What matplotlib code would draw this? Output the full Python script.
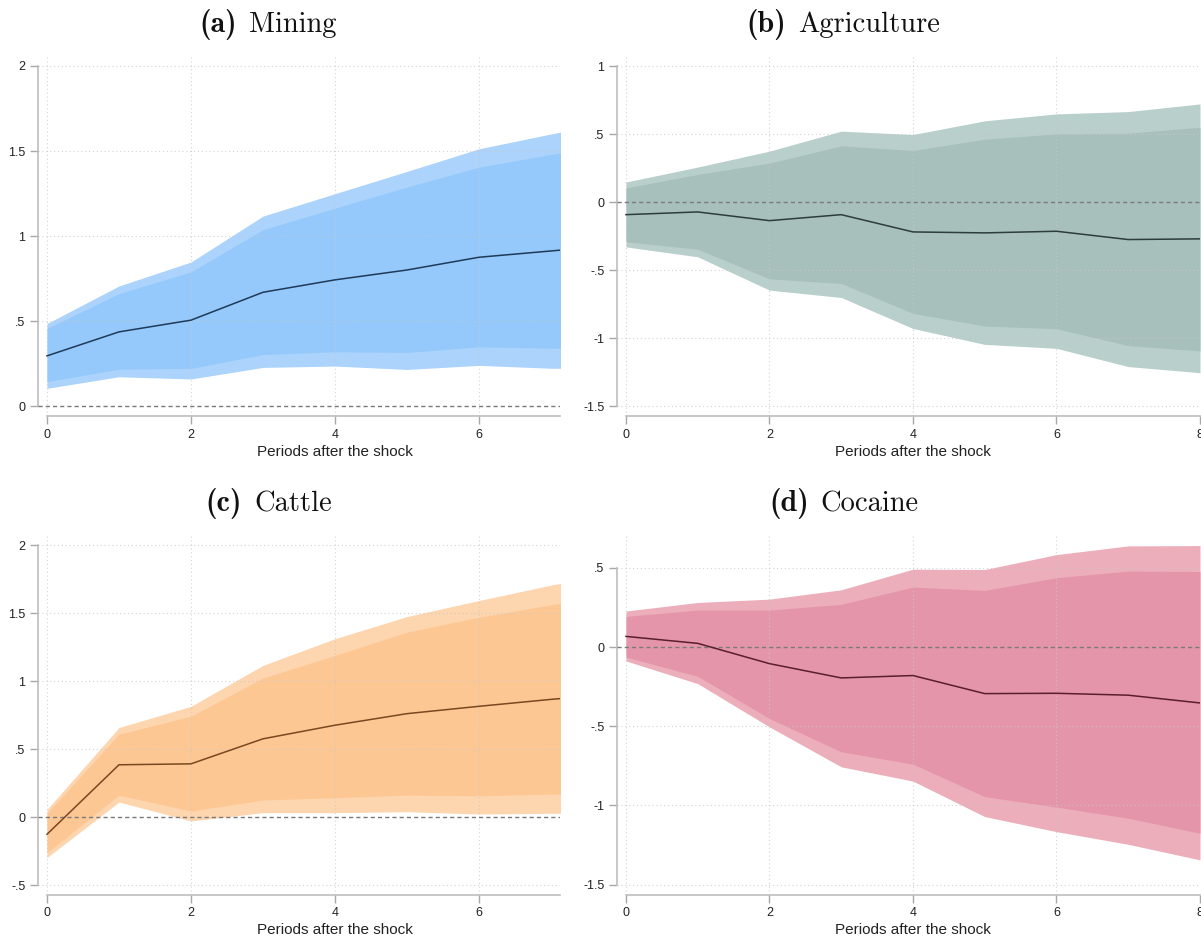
import matplotlib
matplotlib.use('Agg')
import matplotlib.pyplot as plt
from matplotlib.transforms import blended_transform_factory

plt.rcParams['mathtext.fontset'] = 'cm'
plt.rcParams['font.family'] = ['Liberation Sans', 'DejaVu Sans']
plt.rcParams['axes.unicode_minus'] = False

periods = [0, 1, 2, 3, 4, 5, 6, 7, 8]

# (a) Mining
mining_irf = [0.295, 0.436, 0.505, 0.669, 0.742, 0.800, 0.875, 0.912, 0.950]
mining_in_lo = [0.143, 0.217, 0.221, 0.303, 0.319, 0.315, 0.348, 0.340, 0.335]
mining_in_hi = [0.456, 0.661, 0.789, 1.037, 1.164, 1.288, 1.405, 1.480, 1.550]
mining_out_lo = [0.104, 0.172, 0.159, 0.227, 0.235, 0.215, 0.239, 0.222, 0.220]
mining_out_hi = [0.485, 0.706, 0.847, 1.117, 1.249, 1.380, 1.513, 1.600, 1.680]

# (b) Agriculture
agri_irf = [-0.093, -0.073, -0.137, -0.093, -0.220, -0.227, -0.215, -0.276, -0.271]
agri_in_lo = [-0.293, -0.347, -0.565, -0.599, -0.819, -0.912, -0.932, -1.056, -1.095]
agri_in_hi = [0.103, 0.203, 0.286, 0.413, 0.379, 0.462, 0.501, 0.506, 0.550]
agri_out_lo = [-0.330, -0.403, -0.648, -0.702, -0.930, -1.047, -1.076, -1.210, -1.255]
agri_out_hi = [0.147, 0.257, 0.374, 0.521, 0.496, 0.597, 0.648, 0.665, 0.721]

# (c) Cattle
cattle_irf = [-0.127, 0.384, 0.391, 0.575, 0.675, 0.760, 0.814, 0.865, 0.910]
cattle_in_lo = [-0.262, 0.161, 0.044, 0.125, 0.142, 0.161, 0.156, 0.168, 0.175]
cattle_in_hi = [0.027, 0.609, 0.741, 1.022, 1.188, 1.359, 1.469, 1.560, 1.640]
cattle_out_lo = [-0.298, 0.110, -0.029, 0.032, 0.032, 0.039, 0.022, 0.027, 0.030]
cattle_out_hi = [0.055, 0.658, 0.814, 1.115, 1.311, 1.474, 1.592, 1.705, 1.800]

# (d) Cocaine
coca_irf = [0.067, 0.023, -0.105, -0.195, -0.180, -0.294, -0.292, -0.304, -0.353]
coca_in_lo = [-0.063, -0.185, -0.451, -0.661, -0.739, -0.944, -1.010, -1.080, -1.175]
coca_in_hi = [0.193, 0.233, 0.233, 0.269, 0.378, 0.357, 0.437, 0.479, 0.476]
coca_out_lo = [-0.088, -0.231, -0.504, -0.756, -0.846, -1.070, -1.165, -1.245, -1.343]
coca_out_hi = [0.227, 0.281, 0.302, 0.361, 0.491, 0.489, 0.583, 0.638, 0.640]

title_tags = ['(a)', '(b)', '(c)', '(d)']
title_names = ['Mining', 'Agriculture', 'Cattle', 'Cocaine']
xlabel = 'Periods after the shock'

yticks_a = [0, 0.5, 1, 1.5, 2]
ylabels_a = ['0', '.5', '1', '1.5', '2']
yticks_b = [-1.5, -1, -0.5, 0, 0.5, 1]
ylabels_b = ['-1.5', '-1', '-.5', '0', '.5', '1']
yticks_c = [-0.5, 0, 0.5, 1, 1.5, 2]
ylabels_c = ['-.5', '0', '.5', '1', '1.5', '2']
yticks_d = [-1.5, -1, -0.5, 0, 0.5]
ylabels_d = ['-1.5', '-1', '-.5', '0', '.5']
xticks_left = [0, 2, 4, 6]
xticks_right = [0, 2, 4, 6, 8]

W, H = 1201, 940
fig = plt.figure(figsize=(W / 100, H / 100), dpi=100)
fig.patch.set_facecolor('white')


def add_ax(l, r, t, b):
    return fig.add_axes([l / W, 1 - b / H, (r - l) / W, (b - t) / H])


panels = [
    dict(box=(38, 560, 55, 416), xlim=(-0.125, 7.125), ylim=(-0.0588, 2.0647),
         xt=xticks_left, yt=yticks_a, yl=ylabels_a,
         irf=mining_irf, ilo=mining_in_lo, ihi=mining_in_hi, olo=mining_out_lo, ohi=mining_out_hi,
         c_out='#abd3fc', c_in='#95c9fb', c_line='#1e3a58',
         tag=title_tags[0], name=title_names[0], tx=268, ty=32, lab_off=-36),
    dict(box=(617, 1200, 55, 416), xlim=(-0.125, 8.0), ylim=(-1.5735, 1.081),
         xt=xticks_right, yt=yticks_b, yl=ylabels_b,
         irf=agri_irf, ilo=agri_in_lo, ihi=agri_in_hi, olo=agri_out_lo, ohi=agri_out_hi,
         c_out='#b9cfcc', c_in='#a8c0bc', c_line='#2c3d3b',
         tag=title_tags[1], name=title_names[1], tx=843, ty=32, lab_off=-36),
    dict(box=(38, 560, 534, 895), xlim=(-0.125, 7.125), ylim=(-0.5735, 2.081),
         xt=xticks_left, yt=yticks_c, yl=ylabels_c,
         irf=cattle_irf, ilo=cattle_in_lo, ihi=cattle_in_hi, olo=cattle_out_lo, ohi=cattle_out_hi,
         c_out='#fdd5ae', c_in='#fdc794', c_line='#7a4820',
         tag=title_tags[2], name=title_names[2], tx=269, ty=511, lab_off=-35),
    dict(box=(617, 1200, 534, 895), xlim=(-0.125, 8.0), ylim=(-1.5647, 0.713),
         xt=xticks_right, yt=yticks_d, yl=ylabels_d,
         irf=coca_irf, ilo=coca_in_lo, ihi=coca_in_hi, olo=coca_out_lo, ohi=coca_out_hi,
         c_out='#ecaebb', c_in='#e495a9', c_line='#5a1e2e',
         tag=title_tags[3], name=title_names[3], tx=844, ty=511, lab_off=-35),
]

fig.canvas.draw()
renderer = fig.canvas.get_renderer()

axis_col = '#bdbdbd'
for p in panels:
    ax = add_ax(*p['box'])
    ax.set_facecolor('white')
    ax.set_xlim(*p['xlim'])
    ax.set_ylim(*p['ylim'])

    ax.fill_between(periods, p['olo'], p['ohi'], color=p['c_out'], lw=0, zorder=1)
    ax.fill_between(periods, p['ilo'], p['ihi'], color=p['c_in'], lw=0, zorder=1.5)

    for yv in p['yt']:
        if yv != 0:
            ax.axhline(yv, color='#c8c8c8', lw=0.8, ls=(0, (1, 2.5)), zorder=2, alpha=0.8)
    for xv in p['xt']:
        ax.axvline(xv, color='#c8c8c8', lw=0.8, ls=(0, (1, 2.5)), zorder=2, alpha=0.8)

    ax.axhline(0, color='#7a7a7a', lw=1.0, ls=(0, (3, 2.2)), zorder=3)
    ax.plot(periods, p['irf'], color=p['c_line'], lw=1.1, zorder=4, clip_on=True)

    ax.set_xticks(p['xt'])
    ax.set_xticklabels([str(v) for v in p['xt']])
    ax.set_yticks(p['yt'])
    ax.set_yticklabels(p['yl'])
    for s in ['top', 'right']:
        ax.spines[s].set_visible(False)
    ax.spines['left'].set_bounds(min(p['yt']), max(p['yt']))
    ax.spines['bottom'].set_bounds(0, p['xlim'][1])
    for s in ['left', 'bottom']:
        ax.spines[s].set_color(axis_col)
        ax.spines[s].set_linewidth(1.2)
    ax.tick_params(axis='both', direction='out', length=6, width=1.0, color='#a8a8a8',
                   labelsize=9, labelcolor='#222222', pad=3)

    ax.annotate(xlabel, xy=(4, 0), xycoords=blended_transform_factory(ax.transData, ax.transAxes),
                xytext=(0, p['lab_off']), textcoords='offset pixels', ha='center', va='center',
                fontsize=11, color='#222222', annotation_clip=False)

    # title: bold tag + roman name, centred as a group
    yb = 1 - p['ty'] / H
    t1 = fig.text(0, yb, p['tag'], ha='left', va='baseline', fontsize=21.5,
                  family='cmb10', color='#111111')
    t2 = fig.text(0, yb, p['name'], ha='left', va='baseline', fontsize=20.5,
                  family='cmr10', color='#111111')
    w1 = t1.get_window_extent(renderer).width
    w2 = t2.get_window_extent(renderer).width
    gap = 12
    x0 = p['tx'] - (w1 + gap + w2) / 2
    t1.set_x(x0 / W)
    t2.set_x((x0 + w1 + gap) / W)

fig.savefig('out.png', dpi=100, facecolor='white')
